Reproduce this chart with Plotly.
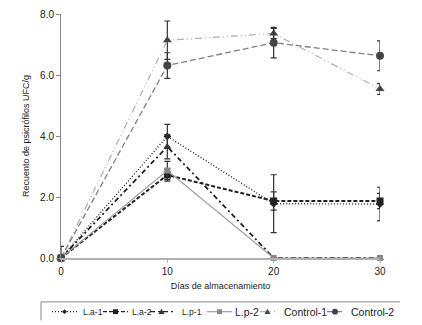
import plotly.graph_objects as go

days = [0, 10, 20, 30]
names = ["L.a-1", "L.a-2", "L.p-1", "L.p-2", "Control-1", "Control-2"]
la1 = [0.0, 3.99, 1.78, 1.77]
la1_err = [0.38, 0.39, 0.95, 0.55]
la2 = [0.0, 2.72, 1.87, 1.87]
la2_err = [0.05, 0.2, 0.3, 0.25]
lp1 = [0.0, 3.65, 0.0, 0.0]
lp1_err = [0.05, 0.4, 0.0, 0.0]
lp2 = [0.0, 2.87, 0.0, 0.0]
lp2_err = [0.05, 0.3, 0.0, 0.0]
ctrl1 = [0.0, 7.14, 7.36, 5.54]
ctrl1_err = [0.05, 0.63, 0.17, 0.18]
ctrl2 = [0.0, 6.31, 7.06, 6.63]
ctrl2_err = [0.05, 0.42, 0.5, 0.49]
values = [la1, la2, lp1, lp2, ctrl1, ctrl2]
errors = [la1_err, la2_err, lp1_err, lp2_err, ctrl1_err, ctrl2_err]

# styles: line colour, dash, width, marker symbol, marker size, marker colour
styles = [
    ("#222222", "1px,2px", 1.4, "diamond", 6, "#222222"),
    ("#222222", "4px,2px", 2.0, "square", 7, "#222222"),
    ("#222222", "5px,3px,2px,3px", 1.8, "triangle-up", 7, "#333333"),
    ("#a0a0a0", "solid", 1.2, "square", 6, "#888888"),
    ("#b0b0b0", "7px,3px,1px,3px,1px,3px", 1.2, "triangle-up", 8, "#444444"),
    ("#808080", "6px,3px", 1.3, "circle", 8, "#444444"),
]

W, H = 422, 325
L, R, T, B = 61, 42, 8, 67
PW, PH = W - L - R, H - T - B

def px(x):
    return (x - L) / PW

def py(y):
    return (H - B - y) / PH

fig = go.Figure()
for name, vals, err, (col, dash, lw, sym, ms, mcol) in zip(names, values, errors, styles):
    fig.add_trace(go.Scatter(
        x=days, y=vals, name=name, mode="lines+markers", cliponaxis=False,
        line=dict(color=col, dash=dash, width=lw),
        marker=dict(symbol=sym, size=ms, color=mcol),
        error_y=dict(type="data", array=err, visible=True, color="#333333",
                     thickness=1.2, width=3),
    ))

# manual legend (layout only)
shapes = []
annotations = []
shapes.append(dict(type="line", xref="paper", yref="paper", x0=px(41), x1=px(400),
                   y0=py(303), y1=py(303), line=dict(color="#888888", width=1)))
shapes.append(dict(type="line", xref="paper", yref="paper", x0=px(41), x1=px(41),
                   y0=py(303), y1=py(322), line=dict(color="#888888", width=1)))
leg_y = 313
leg_items = [  # line start, line end, text x, font size
    (52, 77, 81, 8.5),
    (103, 128, 130, 8.5),
    (150, 173, 180, 8.5),
    (207, 232, 233, 10.5),
    (260, 275, 282, 10.5),
    (327, 343, 349, 10.5),
]
for name, (col, dash, lw, sym, ms, mcol), (a, b, tx, fs) in zip(names, styles, leg_items):
    shapes.append(dict(type="line", xref="paper", yref="paper", x0=px(a), x1=px(b),
                       y0=py(leg_y), y1=py(leg_y), line=dict(color=col, dash=dash, width=min(lw, 1.3))))
    cx = (a + b) / 2
    s = 2.5
    if sym == "square":
        shapes.append(dict(type="rect", xref="paper", yref="paper", x0=px(cx - s), x1=px(cx + s),
                           y0=py(leg_y + s), y1=py(leg_y - s), fillcolor=mcol, line=dict(width=0)))
    elif sym == "circle":
        shapes.append(dict(type="circle", xref="paper", yref="paper", x0=px(cx - s - 0.5), x1=px(cx + s + 0.5),
                           y0=py(leg_y + s + 0.5), y1=py(leg_y - s - 0.5), fillcolor=mcol, line=dict(width=0)))
    elif sym == "triangle-up":
        path = "M {} {} L {} {} L {} {} Z".format(px(cx - 3), py(leg_y + 2.5), px(cx + 3), py(leg_y + 2.5),
                                                  px(cx), py(leg_y - 3))
        shapes.append(dict(type="path", xref="paper", yref="paper", path=path, fillcolor=mcol, line=dict(width=0)))
    else:
        path = "M {} {} L {} {} L {} {} L {} {} Z".format(px(cx - 2.5), py(leg_y), px(cx), py(leg_y - 2.5),
                                                          px(cx + 2.5), py(leg_y), px(cx), py(leg_y + 2.5))
        shapes.append(dict(type="path", xref="paper", yref="paper", path=path, fillcolor=mcol, line=dict(width=0)))
    annotations.append(dict(text=name, xref="paper", yref="paper", x=px(tx), y=py(leg_y),
                            xanchor="left", yanchor="middle", showarrow=False,
                            font=dict(size=fs, color="#222222")))

fig.update_layout(
    width=W, height=H,
    margin=dict(l=L, r=R, t=T, b=B, pad=0),
    paper_bgcolor="white", plot_bgcolor="white",
    font=dict(family="Liberation Sans Narrow, Arial Narrow, Liberation Sans, Arial", size=10, color="#222222"),
    showlegend=False,
    shapes=shapes, annotations=annotations,
)
fig.update_xaxes(range=[0, 30], tickvals=[0, 10, 20, 30], showgrid=False, zeroline=False,
                 showline=True, linecolor="#b0b0b0", linewidth=1.5, ticks="outside",
                 ticklen=3, tickcolor="#b0b0b0",
                 title=dict(text="Días de almacenamiento", font=dict(size=9), standoff=7))
fig.update_yaxes(range=[0, 8], tickvals=[0, 2, 4, 6, 8], tickformat=".1f", showgrid=False,
                 zeroline=False, showline=True, linecolor="#888888", linewidth=1,
                 ticks="outside", ticklen=4, tickcolor="#888888",
                 title=dict(text="Recuento de psicrófilos UFC/g", font=dict(size=9), standoff=8))
fig.write_html("out.html", config={"displayModeBar": False},
               post_script="document.body.style.margin='0';")
